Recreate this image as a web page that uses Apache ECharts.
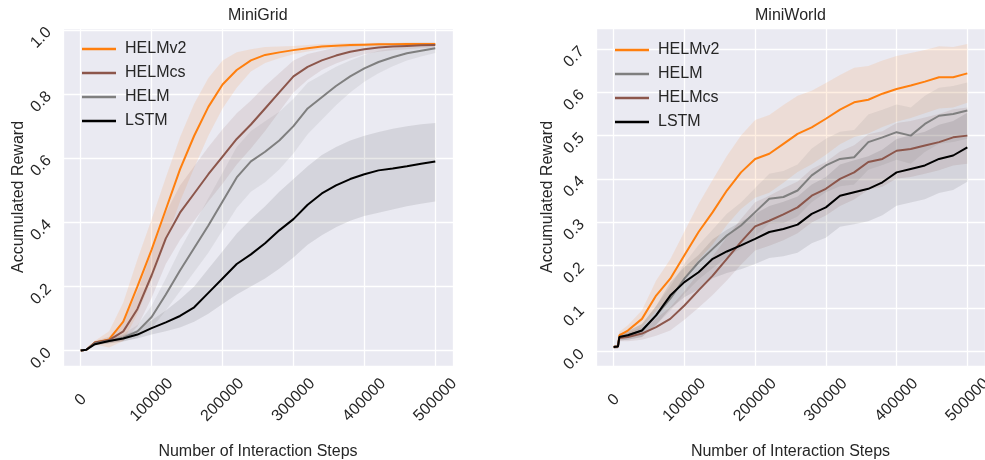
<!DOCTYPE html>
<html>
<head>
<meta charset="utf-8">
<script src="https://cdn.jsdelivr.net/npm/echarts@6.0.0/dist/echarts.min.js"></script>
<style>
html,body{margin:0;padding:0;background:#fff}
#chart{width:985px;height:460px}
</style>
</head>
<body>
<div id="chart"></div>
<script>
// MiniGrid (left)
const gridSteps=[0,8000,20000,40000,60000,80000,100000,120000,140000,160000,180000,200000,220000,240000,260000,280000,300000,320000,340000,360000,380000,400000,420000,440000,460000,480000,500000]
const gridV2Mean=[0,0.003,0.025,0.035,0.09,0.2,0.315,0.44,0.565,0.67,0.76,0.83,0.875,0.905,0.922,0.93,0.937,0.943,0.948,0.951,0.953,0.954,0.955,0.955,0.956,0.956,0.956]
const gridV2Low=[0,0.001,0.019,0.01,0.03,0.115,0.22,0.34,0.465,0.57,0.67,0.755,0.82,0.87,0.897,0.912,0.924,0.933,0.94,0.944,0.947,0.949,0.95,0.951,0.952,0.952,0.952]
const gridV2High=[0,0.005,0.031,0.06,0.15,0.285,0.41,0.54,0.665,0.77,0.85,0.905,0.93,0.94,0.947,0.948,0.95,0.953,0.956,0.958,0.959,0.959,0.96,0.959,0.96,0.96,0.96]
const gridCsMean=[0,0.003,0.025,0.033,0.06,0.13,0.235,0.35,0.43,0.49,0.55,0.605,0.66,0.705,0.755,0.805,0.855,0.885,0.905,0.92,0.932,0.94,0.945,0.948,0.95,0.952,0.953]
const gridCsLow=[0,0.001,0.02,0.023,0.03,0.075,0.165,0.27,0.345,0.405,0.465,0.52,0.58,0.63,0.685,0.745,0.805,0.845,0.875,0.895,0.912,0.924,0.932,0.937,0.94,0.943,0.945]
const gridCsHigh=[0,0.005,0.03,0.043,0.09,0.185,0.305,0.43,0.515,0.575,0.635,0.69,0.74,0.78,0.825,0.865,0.905,0.925,0.935,0.945,0.952,0.956,0.958,0.959,0.96,0.961,0.961]
const gridHelmMean=[0,0.003,0.022,0.03,0.04,0.06,0.105,0.175,0.25,0.32,0.39,0.465,0.54,0.59,0.62,0.655,0.7,0.755,0.79,0.825,0.855,0.88,0.9,0.915,0.927,0.935,0.943]
const gridHelmLow=[0,0.001,0.018,0.022,0.028,0.04,0.07,0.125,0.185,0.245,0.305,0.375,0.445,0.495,0.525,0.565,0.615,0.675,0.72,0.765,0.805,0.838,0.865,0.887,0.905,0.917,0.928]
const gridHelmHigh=[0,0.005,0.026,0.038,0.052,0.08,0.14,0.225,0.315,0.395,0.475,0.555,0.635,0.685,0.715,0.745,0.785,0.835,0.86,0.885,0.905,0.922,0.935,0.943,0.949,0.953,0.958]
const gridLstmMean=[0,0.003,0.02,0.03,0.038,0.05,0.07,0.088,0.108,0.135,0.18,0.225,0.27,0.3,0.335,0.375,0.41,0.455,0.49,0.515,0.535,0.55,0.562,0.568,0.575,0.583,0.59]
const gridLstmLow=[0,0.002,0.015,0.024,0.03,0.038,0.05,0.06,0.072,0.09,0.115,0.145,0.175,0.2,0.225,0.255,0.29,0.33,0.36,0.385,0.405,0.42,0.43,0.44,0.45,0.458,0.465]
const gridLstmHigh=[0,0.004,0.025,0.036,0.048,0.065,0.095,0.125,0.16,0.2,0.255,0.31,0.365,0.41,0.45,0.495,0.535,0.575,0.61,0.635,0.655,0.67,0.682,0.692,0.7,0.706,0.71]

// MiniWorld (right)
const worldSteps=[0,6000,8000,20000,40000,60000,80000,100000,120000,140000,160000,180000,200000,220000,240000,260000,280000,300000,320000,340000,360000,380000,400000,420000,440000,460000,480000,500000]
const worldV2Mean=[0.011,0.012,0.038,0.049,0.076,0.13,0.169,0.223,0.277,0.323,0.373,0.415,0.446,0.458,0.481,0.504,0.519,0.539,0.56,0.577,0.583,0.597,0.608,0.616,0.625,0.635,0.635,0.644]
const worldV2Low=[0.007,0.008,0.03,0.037,0.056,0.095,0.124,0.168,0.212,0.248,0.293,0.33,0.356,0.368,0.391,0.416,0.434,0.456,0.48,0.497,0.505,0.52,0.532,0.541,0.552,0.563,0.565,0.576]
const worldV2High=[0.015,0.016,0.046,0.061,0.096,0.165,0.214,0.278,0.342,0.398,0.453,0.5,0.536,0.548,0.571,0.592,0.604,0.622,0.64,0.657,0.661,0.674,0.684,0.691,0.698,0.707,0.705,0.712]
const worldHelmMean=[0.011,0.012,0.034,0.038,0.049,0.084,0.123,0.169,0.207,0.238,0.269,0.292,0.323,0.354,0.358,0.373,0.408,0.431,0.446,0.45,0.485,0.496,0.508,0.5,0.527,0.546,0.55,0.558]
const worldHelmLow=[0.007,0.008,0.026,0.028,0.034,0.062,0.095,0.134,0.167,0.193,0.219,0.239,0.267,0.296,0.298,0.313,0.346,0.369,0.383,0.387,0.421,0.432,0.444,0.435,0.462,0.481,0.485,0.493]
const worldHelmHigh=[0.015,0.016,0.042,0.048,0.064,0.106,0.151,0.204,0.247,0.283,0.319,0.345,0.379,0.412,0.418,0.433,0.47,0.493,0.509,0.513,0.549,0.56,0.572,0.565,0.592,0.611,0.615,0.623]
const worldCsMean=[0.011,0.012,0.032,0.034,0.042,0.057,0.076,0.107,0.142,0.176,0.215,0.254,0.29,0.303,0.318,0.334,0.361,0.377,0.4,0.415,0.439,0.446,0.465,0.469,0.477,0.485,0.496,0.5]
const worldCsLow=[0.007,0.008,0.024,0.024,0.028,0.037,0.049,0.074,0.102,0.131,0.165,0.201,0.234,0.245,0.258,0.274,0.299,0.315,0.337,0.352,0.375,0.382,0.401,0.404,0.412,0.42,0.431,0.435]
const worldCsHigh=[0.015,0.016,0.04,0.044,0.056,0.077,0.103,0.14,0.182,0.221,0.265,0.307,0.346,0.361,0.378,0.394,0.423,0.439,0.463,0.478,0.503,0.51,0.529,0.534,0.542,0.55,0.561,0.565]
const worldLstmMean=[0.011,0.012,0.034,0.038,0.049,0.084,0.13,0.161,0.184,0.215,0.232,0.246,0.261,0.277,0.284,0.294,0.319,0.334,0.361,0.369,0.377,0.392,0.415,0.423,0.431,0.446,0.454,0.473]
const worldLstmLow=[0.007,0.008,0.026,0.028,0.034,0.062,0.1,0.126,0.144,0.17,0.182,0.191,0.203,0.217,0.221,0.229,0.251,0.264,0.289,0.295,0.302,0.316,0.338,0.345,0.353,0.367,0.374,0.393]
const worldLstmHigh=[0.015,0.016,0.042,0.048,0.064,0.106,0.16,0.196,0.224,0.26,0.282,0.301,0.319,0.337,0.347,0.359,0.387,0.404,0.433,0.443,0.452,0.468,0.492,0.501,0.509,0.525,0.534,0.553]

const lineColor={HELMv2:'#ff7f0e',HELMcs:'#8c564b',HELM:'#7f7f7f',LSTM:'#000000'}
const bandColor={HELMv2:'rgba(255,127,14,0.12)',HELMcs:'rgba(140,86,75,0.12)',HELM:'rgba(127,127,127,0.12)',LSTM:'rgba(0,0,0,0.09)'}
const textColor='#262626'
const font='"Liberation Sans", Arial, sans-serif'

let panels=[
    {title:'MiniGrid',steps:gridSteps,yMin:-0.048,yMax:1.006,split:5,tick:0.2,
     names:['HELMv2','HELMcs','HELM','LSTM'],
     mean:[gridV2Mean,gridCsMean,gridHelmMean,gridLstmMean],
     low:[gridV2Low,gridCsLow,gridHelmLow,gridLstmLow],
     high:[gridV2High,gridCsHigh,gridHelmHigh,gridLstmHigh]},
    {title:'MiniWorld',steps:worldSteps,yMin:-0.033,yMax:0.749,split:8,tick:0.1,
     names:['HELMv2','HELM','HELMcs','LSTM'],
     mean:[worldV2Mean,worldHelmMean,worldCsMean,worldLstmMean],
     low:[worldV2Low,worldHelmLow,worldCsLow,worldLstmLow],
     high:[worldV2High,worldHelmHigh,worldCsHigh,worldLstmHigh]}
]
let gridPos=[{left:63,top:28,width:390,height:338},{left:596,top:28,width:389,height:338}]
let titleLeft=[228,755]
let legendPos=[{left:77,top:36},{left:610,top:37}]
let yNameGap=[36,40]

function onStep(v,step){
    return Math.abs(v/step-Math.round(v/step))<1e-6
}

// one polygon per band, drawn from the whole row set at dataIndex 0
function bandItem(steps,low,high,color){
    return function(params,api){
        if(params.dataIndex!==0) return
        let pts=[]
        for(let i=0;i<steps.length;i++) pts.push(api.coord([steps[i],high[i]]))
        for(let i=steps.length-1;i>=0;i--) pts.push(api.coord([steps[i],low[i]]))
        return {type:'polygon',shape:{points:pts},style:{fill:color},silent:true}
    }
}

let grid=[],xAxis=[],yAxis=[],series=[],title=[],legend=[]
for(let p=0;p<panels.length;p++){
    let pan=panels[p]
    grid.push(Object.assign({show:true,backgroundColor:'#EAEAF2',borderWidth:0,outerBoundsMode:'none',containLabel:false},gridPos[p]))
    title.push({text:pan.title,top:8,left:titleLeft[p],padding:0,
        textStyle:{fontSize:16,fontWeight:'normal',color:textColor,fontFamily:font}})
    xAxis.push({type:'value',gridIndex:p,min:-25000,max:525000,splitNumber:5,
        name:'Number of Interaction Steps',nameLocation:'middle',nameGap:78,nameMoveOverlap:false,
        nameTextStyle:{fontSize:16,color:textColor,fontFamily:font},
        axisLine:{show:false},axisTick:{show:false},
        axisLabel:{rotate:45,align:'center',verticalAlign:'middle',margin:34,fontSize:16,color:textColor,fontFamily:font,
            formatter:v=>onStep(v,100000)?String(v):''},
        splitLine:{lineStyle:{color:'#ffffff',width:1.3}}})
    yAxis.push({type:'value',gridIndex:p,min:pan.yMin,max:pan.yMax,splitNumber:pan.split,
        name:'Accumulated Reward',nameLocation:'middle',nameGap:yNameGap[p],nameMoveOverlap:false,
        nameTextStyle:{fontSize:16,color:textColor,fontFamily:font},
        axisLine:{show:false},axisTick:{show:false},
        axisLabel:{rotate:45,margin:14,fontSize:16,color:textColor,fontFamily:font,
            formatter:v=>onStep(v,pan.tick)?v.toFixed(1):''},
        splitLine:{lineStyle:{color:'#ffffff',width:1.3}}})
    legend.push({data:pan.names,orient:'vertical',left:legendPos[p].left,top:legendPos[p].top,
        icon:'rect',itemWidth:34,itemHeight:2.5,itemGap:8,
        textStyle:{fontSize:16,color:textColor,fontFamily:font,padding:[0,0,0,4]}})
    for(let k=0;k<pan.names.length;k++){
        let name=pan.names[k]
        let rows=pan.steps.map((s,i)=>[s,pan.low[k][i],pan.high[k][i]])
        series.push({name:name+' band',type:'custom',xAxisIndex:p,yAxisIndex:p,clip:true,z:1,
            encode:{x:0,y:[1,2]},data:rows,silent:true,
            renderItem:bandItem(pan.steps,pan.low[k],pan.high[k],bandColor[name])})
    }
    for(let k=0;k<pan.names.length;k++){
        let name=pan.names[k]
        series.push({name:name,type:'line',xAxisIndex:p,yAxisIndex:p,
            data:pan.steps.map((s,i)=>[s,pan.mean[k][i]]),symbol:'none',z:3,color:lineColor[name],
            lineStyle:{width:2,color:lineColor[name]}})
    }
}

let chart=echarts.init(document.getElementById('chart'))
chart.setOption({
    animation:false,
    backgroundColor:'#ffffff',
    title:title,
    legend:legend,
    grid:grid,
    xAxis:xAxis,
    yAxis:yAxis,
    series:series
})
</script>
</body>
</html>
